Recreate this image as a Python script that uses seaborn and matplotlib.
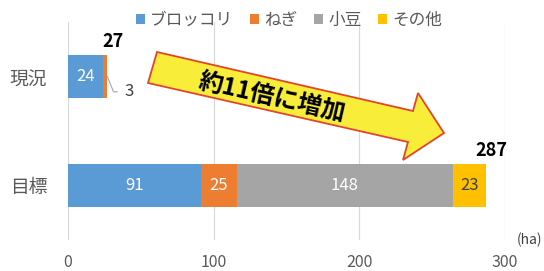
import numpy as np
import pandas as pd
import matplotlib
matplotlib.use("Agg")
import matplotlib.pyplot as plt
from matplotlib.patches import Polygon, Patch
import seaborn as sns

# ---- data ----
categories = ["現況", "目標"]
series_names = ["ブロッコリ", "ねぎ", "小豆", "その他"]
broccoli = [24, 91]
negi = [3, 25]
azuki = [0, 148]
other = [0, 23]
totals = [27, 287]
xticks = [0, 100, 200, 300]
unit_label = "(ha)"
arrow_label = "約11倍に増加"

colors = ["#5B9BD5", "#ED7D31", "#A5A5A5", "#FFC000"]
label_colors = ["white", "white", "white", "#404040"]

sns.set_theme(style="white")
plt.rcParams["font.family"] = ["Noto Sans CJK JP", "DejaVu Sans"]

fig = plt.figure(figsize=(5.44, 2.71), dpi=100)
ax = fig.add_axes([68 / 544, 1 - 240 / 271, (505 - 68) / 544, (240 - 22) / 271])

series = [broccoli, negi, azuki, other]
cum = np.cumsum(np.array(series), axis=0)  # shape (4, n)
df = pd.DataFrame({"category": categories})

# stacked bars by overlaying cumulative sums (largest first)
for i in range(len(series) - 1, -1, -1):
    df["value"] = cum[i]
    sns.barplot(data=df, x="value", y="category", orient="h", color=colors[i],
                width=0.4, saturation=1, ax=ax, zorder=2, linewidth=0)

# segment labels
for i, vals in enumerate(series):
    for j, v in enumerate(vals):
        if v >= 5:
            left = cum[i][j] - v
            ax.text(left + v / 2, j, str(v), ha="center", va="center",
                    color=label_colors[i], fontsize=12, zorder=4)
        elif v > 0:
            ax.annotate(str(v), xy=(cum[i][j], j), xytext=(12.5, -11),
                        textcoords="offset points", ha="left", va="center",
                        fontsize=12, color="#404040",
                        arrowprops=dict(arrowstyle="-", color="#A6A6A6", lw=0.8,
                                        shrinkA=3, shrinkB=0,
                                        connectionstyle="angle,angleA=0,angleB=112,rad=0"))

# totals
for j, t in enumerate(totals):
    ax.annotate(str(t), xy=(t, j), xytext=(4, 25.5), textcoords="offset points",
                ha="center", va="center", fontsize=13, fontweight="bold",
                color="black")

ax.set_xlim(xticks[0], xticks[-1])
ax.set_ylim(1.5, -0.5)
ax.set_xticks(xticks)
ax.set_xticklabels([str(t) for t in xticks])
ax.set_xlabel("")
ax.set_ylabel("")
ax.grid(axis="x", color="#D9D9D9", lw=0.9, zorder=0)
ax.grid(axis="y", visible=False)
ax.set_axisbelow(True)
for s in ax.spines.values():
    s.set_visible(False)
ax.tick_params(axis="x", length=0, pad=10, labelsize=11.5, labelcolor="#595959")
ax.tick_params(axis="y", length=0, pad=15, labelsize=13.5, labelcolor="#595959")

# legend
handles = [Patch(facecolor=c, edgecolor="none") for c in colors]
fig.legend(handles, series_names, loc="center", bbox_to_anchor=(289 / 544, 1 - 20 / 271),
           ncol=4, frameon=False, fontsize=12, handlelength=0.55, handleheight=0.55,
           handletextpad=0.3, columnspacing=1.0, labelcolor="#595959")

# unit label
fig.text(542 / 544, 1 - 240 / 271, unit_label, ha="right", va="center",
         fontsize=10, color="#404040")

# big arrow annotation
pts_px = [(157, 52), (413, 111), (418, 93), (444, 133), (403, 160), (408, 142), (148, 83)]
pts = [(x / 544, 1 - y / 271) for x, y in pts_px]
arrow = Polygon(pts, closed=True, facecolor="#F8EE3A", edgecolor="#E4442C", lw=1.3,
                transform=fig.transFigure, clip_on=False, zorder=5)
ax.add_patch(arrow)
fig.text(272 / 544, 1 - 98 / 271, arrow_label, ha="center", va="center",
         rotation=-12.7, rotation_mode="anchor", fontsize=17.5, fontweight="bold",
         color="black", zorder=6)

fig.savefig("out.png", dpi=100)
